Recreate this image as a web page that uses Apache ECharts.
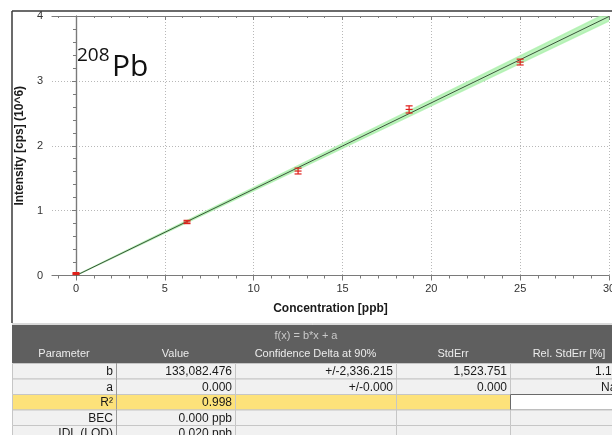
<!DOCTYPE html>
<html>
<head>
<meta charset="utf-8">
<script src="https://cdn.jsdelivr.net/npm/echarts@6/dist/echarts.min.js"></script>
<style>
  html, body { margin: 0; padding: 0; background: #ffffff; }
  #chart { width: 612px; height: 435px; }
</style>
</head>
<body>
<div id="chart"></div>
<script>
// Calibration standards for 208Pb (intensity in cps x 10^6)
const concentrations = [0, 6.25, 12.5, 18.75, 25];
const intensities = [0.03, 0.825, 1.61, 2.56, 3.29];
const intensityErrors = [0.015, 0.025, 0.045, 0.055, 0.045];

// Linear fit f(x) = b*x + a and its 90% confidence delta on b
const slopeB = 133082.476;
const interceptA = 0.0;
const slopeDelta90 = 2336.215;
const fitRange = [0, 30];

// Axis ticks
const xTickValues = [0, 5, 10, 15, 20, 25, 30];
const xMinorTickValues = [-1, 1, 2, 3, 4, 6, 7, 8, 9, 11, 12, 13, 14, 16, 17, 18, 19, 21, 22, 23, 24, 26, 27, 28, 29];
const yTickValues = [0, 1, 2, 3, 4];

// Regression results table
const tableTitle = 'f(x) = b*x + a';
const tableColumns = ['Parameter', 'Value', 'Confidence Delta at 90%', 'StdErr', 'Rel. StdErr [%]'];
const tableRows = [
  ['b', '133,082.476', '+/-2,336.215', '1,523.751', '1.145'],
  ['a', '0.000', '+/-0.000', '0.000', 'NaN'],
  ['R\u00B2', '0.998', '', '', ''],
  ['BEC', '0.000 ppb', '', '', ''],
  ['IDL (LOD)', '0.020 ppb', '', '', '']
];
const highlightedRow = 2;

const FONT = '"Liberation Sans", Arial, sans-serif';
const AXIS_COLOR = '#7a7a7a';

const chart = echarts.init(document.getElementById('chart'), null, { renderer: 'canvas' });

const points = concentrations.map((c, i) => [c, intensities[i], intensityErrors[i]]);
const fitLine = fitRange.map(x => [x, (slopeB * x + interceptA) / 1e6]);

// ---- table graphics ----
const colEdges = [12, 116, 235, 396, 510, 628];
const headerTop = 325, titleRowH = 20, headRowH = 18, rowH = 15.5;
const bodyTop = headerTop + titleRowH + headRowH;
const graphics = [];

// outer frame of the plot panel
graphics.push({ type: 'line', shape: { x1: 12, y1: 11, x2: 612, y2: 11 }, style: { stroke: '#3a3a3a', lineWidth: 1.5 }, silent: true });
graphics.push({ type: 'line', shape: { x1: 12, y1: 11, x2: 12, y2: 323 }, style: { stroke: '#3a3a3a', lineWidth: 1.5 }, silent: true });

// header block
graphics.push({ type: 'line', shape: { x1: 12, y1: headerTop - 1, x2: 628, y2: headerTop - 1 }, style: { stroke: '#b4b4b4', lineWidth: 1 }, silent: true });
graphics.push({ type: 'rect', shape: { x: 12, y: headerTop, width: 616, height: titleRowH + headRowH }, style: { fill: '#5f5f5f' }, silent: true });
graphics.push({
  type: 'text', x: 306, y: headerTop + titleRowH / 2 + 1,
  style: { text: tableTitle, fill: '#c9c9c9', font: '11px ' + FONT, textAlign: 'center', textVerticalAlign: 'middle' }, silent: true
});
tableColumns.forEach((name, c) => {
  graphics.push({
    type: 'text', x: (colEdges[c] + colEdges[c + 1]) / 2, y: headerTop + titleRowH + headRowH / 2,
    style: { text: name, fill: '#ececec', font: '11px ' + FONT, textAlign: 'center', textVerticalAlign: 'middle' }, silent: true
  });
});

// body cells
tableRows.forEach((row, r) => {
  const top = bodyTop + r * rowH;
  row.forEach((cell, c) => {
    const x0 = colEdges[c], x1 = colEdges[c + 1];
    let fill = '#f1f1f1', stroke = '#c6c6c6';
    if (r === highlightedRow) {
      fill = c === tableColumns.length - 1 ? '#ffffff' : '#fde27a';
      if (c === tableColumns.length - 1) stroke = '#6a6a6a';
    }
    graphics.push({ type: 'rect', shape: { x: x0 + 0.5, y: top + 0.5, width: x1 - x0, height: rowH }, style: { fill: fill, stroke: stroke, lineWidth: 1 }, silent: true });
    if (cell) {
      graphics.push({
        type: 'text', x: x1 - 3, y: top + rowH / 2 + 1,
        style: { text: cell, fill: '#1a1a1a', font: '12px ' + FONT, textAlign: 'right', textVerticalAlign: 'middle' }, silent: true
      });
    }
  });
  // first column divider is darker
  graphics.push({ type: 'line', shape: { x1: colEdges[1] + 0.5, y1: top, x2: colEdges[1] + 0.5, y2: top + rowH }, style: { stroke: '#9a9a9a', lineWidth: 1 }, silent: true });
});

// isotope label with superscript mass number
graphics.push({ type: 'text', x: 77, y: 46, style: { text: '208', fill: '#111', font: '19px "Open Sans", ' + FONT, textVerticalAlign: 'top' }, silent: true });
graphics.push({ type: 'text', x: 112, y: 52, style: { text: 'Pb', fill: '#111', font: '30px "Open Sans", ' + FONT, textVerticalAlign: 'top' }, silent: true });

const xRange = { min: -1.35, max: 30 };
const yRange = { min: 0, max: 4 };

const option = {
  backgroundColor: '#ffffff',
  animation: false,
  grid: { left: 52, right: 3, top: 16, bottom: 159.5, containLabel: false, outerBoundsMode: 'none' },
  xAxis: [
    {
      type: 'value', position: 'bottom', min: xRange.min, max: xRange.max,
      name: 'Concentration [ppb]', nameLocation: 'middle', nameGap: 27,
      nameTextStyle: { fontFamily: FONT, fontWeight: 'bold', fontSize: 12, color: '#1a1a1a' },
      axisLine: { lineStyle: { color: AXIS_COLOR, width: 1.2 } },
      axisTick: { show: true, length: 5, customValues: xTickValues, lineStyle: { color: AXIS_COLOR } },
      axisLabel: { customValues: xTickValues, fontFamily: FONT, fontSize: 11, color: '#333', margin: 8 },
      splitLine: { show: true, lineStyle: { color: '#b8b8b8', type: [1, 2], width: 1 } }
    },
    {
      type: 'value', position: 'bottom', min: xRange.min, max: xRange.max,
      axisLine: { show: false },
      axisTick: { show: true, length: 3, customValues: xMinorTickValues, lineStyle: { color: AXIS_COLOR } },
      axisLabel: { show: false }, splitLine: { show: false }
    },
    {
      type: 'value', position: 'top', min: xRange.min, max: xRange.max,
      axisLine: { lineStyle: { color: AXIS_COLOR, width: 1.2 } },
      axisTick: { show: true, inside: true, length: 4, customValues: xTickValues, lineStyle: { color: AXIS_COLOR } },
      axisLabel: { show: false }, splitLine: { show: false }
    },
    {
      type: 'value', position: 'top', min: xRange.min, max: xRange.max,
      axisLine: { show: false },
      axisTick: { show: true, inside: true, length: 2, customValues: xMinorTickValues, lineStyle: { color: AXIS_COLOR } },
      axisLabel: { show: false }, splitLine: { show: false }
    }
  ],
  yAxis: [
    {
      type: 'value', position: 'left', min: yRange.min, max: yRange.max, interval: 1,
      name: 'Intensity [cps] (10^6)', nameLocation: 'middle', nameGap: 21,
      nameTextStyle: { fontFamily: FONT, fontWeight: 'bold', fontSize: 12, color: '#1a1a1a' },
      axisLine: { show: true, lineStyle: { color: AXIS_COLOR, width: 1.2 } },
      axisTick: { show: true, length: 4, lineStyle: { color: AXIS_COLOR } },
      minorTick: { show: true, splitNumber: 5, length: 3, lineStyle: { color: AXIS_COLOR } },
      axisLabel: { customValues: yTickValues, fontFamily: FONT, fontSize: 11, color: '#333', margin: 9 },
      splitLine: { show: true, lineStyle: { color: '#b8b8b8', type: [1, 2], width: 1 } }
    },
    {
      type: 'value', position: 'right', min: yRange.min, max: yRange.max, interval: 1,
      axisLine: { show: true, lineStyle: { color: AXIS_COLOR, width: 1.2 } },
      axisTick: { show: true, inside: true, length: 4, lineStyle: { color: AXIS_COLOR } },
      minorTick: { show: true, splitNumber: 5, length: 2, lineStyle: { color: AXIS_COLOR } },
      axisLabel: { show: false }, splitLine: { show: false }
    }
  ],
  series: [
    {
      // 90% confidence band around the fitted line
      type: 'custom', xAxisIndex: 0, yAxisIndex: 0, clip: true, silent: true, z: 1,
      data: [[fitRange[0], 0]],
      renderItem: function (params, api) {
        const pts = [];
        fitRange.forEach(x => pts.push(api.coord([x, ((slopeB + slopeDelta90) * x + interceptA) / 1e6])));
        fitRange.slice().reverse().forEach(x => pts.push(api.coord([x, ((slopeB - slopeDelta90) * x + interceptA) / 1e6])));
        return { type: 'polygon', shape: { points: pts }, style: { fill: 'rgba(172, 240, 172, 0.8)', stroke: 'rgba(172, 240, 172, 0.8)', lineWidth: 1.5 } };
      }
    },
    {
      // fitted calibration line
      type: 'line', xAxisIndex: 0, yAxisIndex: 0, data: fitLine, symbol: 'none', silent: true, z: 2,
      lineStyle: { color: '#3a553a', width: 1 }
    },
    {
      // measured standards with error bars
      type: 'custom', xAxisIndex: 0, yAxisIndex: 0, silent: true, z: 3,
      data: points,
      renderItem: function (params, api) {
        const x = api.value(0), y = api.value(1), e = api.value(2);
        const top = api.coord([x, y + e]);
        const bot = api.coord([x, y - e]);
        const mid = api.coord([x, y]);
        const hw = 3.5;
        const st = { stroke: '#e0201c', lineWidth: 1.2 };
        return {
          type: 'group', children: [
            { type: 'line', shape: { x1: top[0], y1: top[1], x2: bot[0], y2: bot[1] }, style: st },
            { type: 'line', shape: { x1: top[0] - hw, y1: top[1], x2: top[0] + hw, y2: top[1] }, style: st },
            { type: 'line', shape: { x1: bot[0] - hw, y1: bot[1], x2: bot[0] + hw, y2: bot[1] }, style: st },
            { type: 'line', shape: { x1: mid[0] - hw, y1: mid[1], x2: mid[0] + hw, y2: mid[1] }, style: st }
          ]
        };
      }
    }
  ],
  graphic: graphics
};

chart.setOption(option);
</script>
</body>
</html>
